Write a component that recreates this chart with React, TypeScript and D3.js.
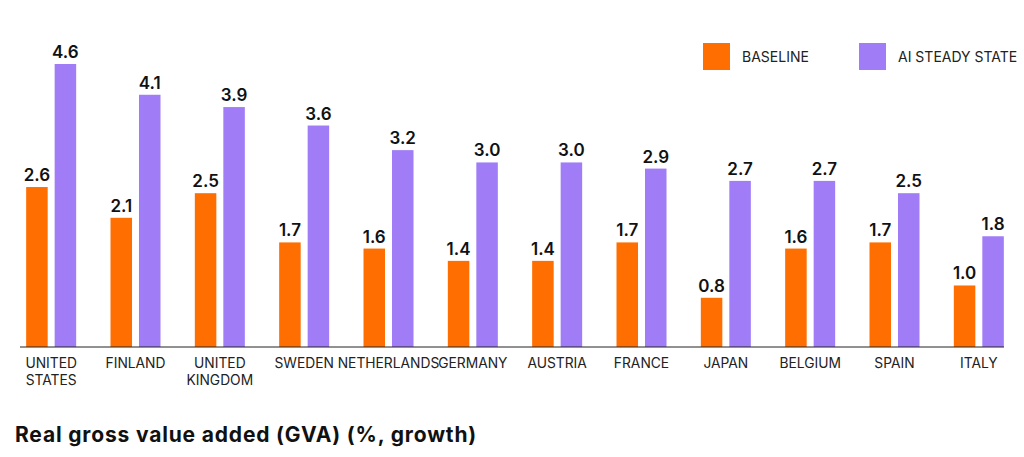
import React from "react";
import * as d3 from "d3";

const countries: string[][] = [
  ["UNITED", "STATES"],
  ["FINLAND"],
  ["UNITED", "KINGDOM"],
  ["SWEDEN"],
  ["NETHERLANDS"],
  ["GERMANY"],
  ["AUSTRIA"],
  ["FRANCE"],
  ["JAPAN"],
  ["BELGIUM"],
  ["SPAIN"],
  ["ITALY"],
];
const baseline = [2.6, 2.1, 2.5, 1.7, 1.6, 1.4, 1.4, 1.7, 0.8, 1.6, 1.7, 1.0];
const aiSteady = [4.6, 4.1, 3.9, 3.6, 3.2, 3.0, 3.0, 2.9, 2.7, 2.7, 2.5, 1.8];
const seriesNames = ["BASELINE", "AI STEADY STATE"];
const title = "Real gross value added (GVA) (%, growth)";

const W = 1024;
const H = 457;
const ORANGE = "#FF6E00";
const PURPLE = "#A07DF6";
const FONT = "Inter, 'Noto Sans', Roboto, sans-serif";

export default function App() {
  const keys = countries.map((c) => c.join(" "));
  const x0 = d3.scaleBand<string>().domain(keys).range([9, 1021]).padding(0);
  const x1 = d3
    .scaleBand<string>()
    .domain(seriesNames)
    .range([0, 50])
    .paddingInner(0.245);
  const y = d3.scaleLinear().domain([0, 4.6]).range([347, 64]);
  const series = [baseline, aiSteady];
  const colors = [ORANGE, PURPLE];

  return (
    <svg
      width={W}
      height={H}
      style={{ position: "absolute", left: 0, top: 0, background: "#fff" }}
      fontFamily={FONT}
    >
      {keys.map((k, i) => {
        const cx = x0(k)! + x0.bandwidth() / 2;
        const gx = cx - 25;
        return (
          <g key={k}>
            {series.map((s, j) => {
              const bx = gx + x1(seriesNames[j])!;
              const v = s[i];
              return (
                <g key={j}>
                  <rect
                    x={bx}
                    y={y(v)}
                    width={x1.bandwidth()}
                    height={y(0) - y(v)}
                    fill={colors[j]}
                  />
                  <text
                    x={bx + x1.bandwidth() / 2}
                    y={y(v) - 6}
                    textAnchor="middle"
                    fontSize={17}
                    fontWeight={600}
                    fill="#111"
                  >
                    {v.toFixed(1)}
                  </text>
                </g>
              );
            })}
            {countries[i].map((line, li) => (
              <text
                key={li}
                x={cx}
                y={367.5 + li * 17}
                textAnchor="middle"
                fontSize={13.8}
                fill="#222"
              >
                {line}
              </text>
            ))}
          </g>
        );
      })}
      <line x1={20} x2={1004} y1={y(0)} y2={y(0)} stroke="#222" strokeWidth={1} />
      {seriesNames.map((n, j) => {
        const lx = j === 0 ? 703 : 859;
        return (
          <g key={n}>
            <rect x={lx} y={43} width={27} height={27} fill={colors[j]} />
            <text x={lx + 39} y={61.5} fontSize={14} fill="#222">
              {n}
            </text>
          </g>
        );
      })}
      <text
        x={15}
        y={441.5}
        fontSize={21}
        fontWeight={700}
        letterSpacing={0.83}
        fill="#111"
      >
        {title}
      </text>
    </svg>
  );
}
